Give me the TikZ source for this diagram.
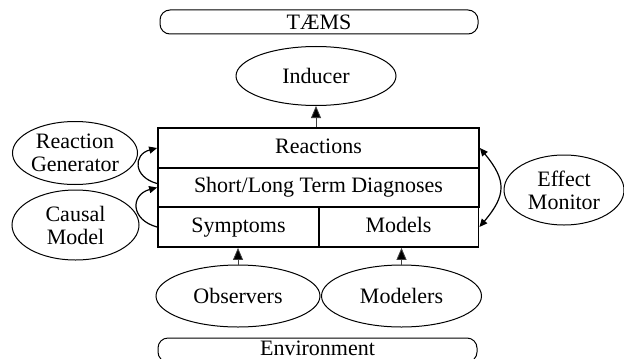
\documentclass[tikz,border=0pt]{standalone}
\usepackage{fontspec}
\setmainfont{Liberation Serif}
\usetikzlibrary{shapes.geometric,arrows.meta}
\begin{document}
\begin{tikzpicture}[x=0.5pt,y=-0.5pt,
  font=\fontsize{11}{11.5}\selectfont,
  oval/.style={ellipse,draw,line width=0.5pt,inner sep=0pt,align=center},
  bar/.style={rectangle,draw,line width=0.5pt,rounded corners=5pt,inner sep=0pt,
    minimum height=12pt},
  cell/.style={rectangle,draw,line width=0.9pt,inner sep=0pt,minimum height=20pt,
    text height=7.5pt,text depth=2.2pt},
  feed/.style={line width=0.4pt,draw=black!75,-{Triangle[length=6pt,width=5pt,fill=black]}},
  loop/.style={line width=0.6pt,-{Triangle[length=4pt,width=3.5pt]}},
  loops/.style={line width=0.6pt,{Triangle[length=4pt,width=3.5pt]}-{Triangle[length=4pt,width=3.5pt]}}]
\useasboundingbox (0,0) rectangle (624,358);
\begin{scope}
\clip (0,0) rectangle (624,358);
% external interfaces
\node[bar,minimum width=159pt] (taems) at (319,22) {TÆMS};
\node[bar,minimum width=159.5pt,text depth=2.2pt] (env) at (317.5,350) {Environment};
% the stacked data layers
\node[cell,minimum width=160.5pt] (reactions) at (318.5,148) {Reactions};
\node[cell,minimum width=160.5pt,minimum height=19.5pt] (diagnoses) at (318.5,187.5) {Short/Long Term Diagnoses};
\node[cell,minimum width=80.5pt] (symptoms) at (238.5,227) {Symptoms};
\node[cell,minimum width=80pt] (models) at (398.5,227) {Models};
% components
\node[oval,minimum width=80pt,minimum height=29.5pt] (inducer) at (316,76) {Inducer};
\node[oval,minimum width=62.5pt,minimum height=31.5pt] (rgen) at (75,153) {Reaction\\Generator};
\node[oval,minimum width=63.5pt,minimum height=35pt] (causal) at (75.5,225) {Causal\\Model};
\node[oval,minimum width=60pt,minimum height=35pt] (effect) at (564,190) {Effect\\Monitor};
\node[oval,minimum width=82pt,minimum height=31pt] (observers) at (238,296) {Observers};
\node[oval,minimum width=80pt,minimum height=31pt] (modelers) at (401.5,296) {Modelers};
\end{scope}
% data flow
\draw[feed] (reactions.north -| inducer.south) -- (inducer.south);
\draw[feed] (observers.north) -- (observers.north |- symptoms.south);
\draw[feed] (modelers.north) -- (modelers.north |- models.south);
\draw[loop] (symptoms.west) to[bend left=75,looseness=1.8] (diagnoses.west);
\draw[loop] ([yshift=2pt]diagnoses.west) to[bend left=75,looseness=1.8] (reactions.west);
\draw[loops] (reactions.east) to[bend left=40,looseness=1.35] (models.east);
\end{tikzpicture}
\end{document}
